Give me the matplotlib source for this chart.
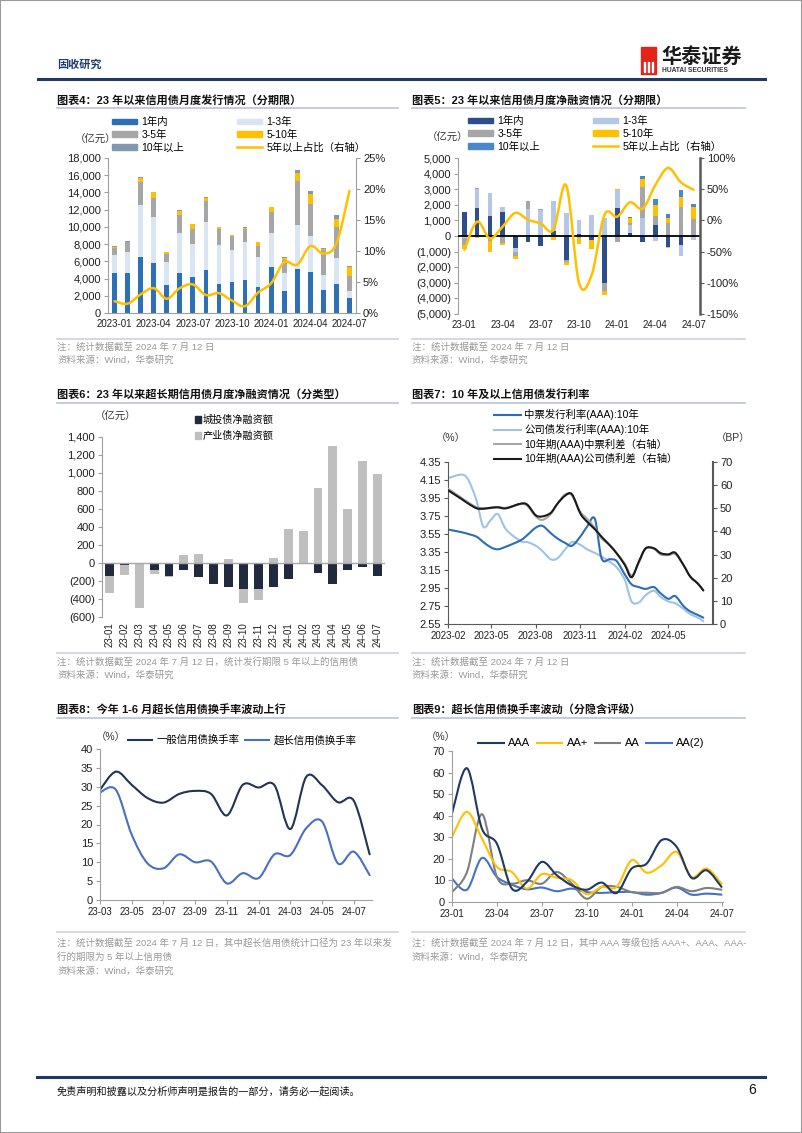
import numpy as np
import pandas as pd
import matplotlib
matplotlib.use('Agg')
import matplotlib.pyplot as plt
import matplotlib.dates as mdates
from matplotlib.path import Path
from matplotlib.patches import PathPatch, Rectangle, Patch
from matplotlib.lines import Line2D
from matplotlib.ticker import FuncFormatter

plt.rcParams['font.family'] = ['Liberation Sans', 'Noto Sans CJK SC', 'DejaVu Sans']
plt.rcParams['axes.unicode_minus'] = False

# ---------------- data ----------------
# chart 4: monthly issuance by tenor (100m yuan)
months4 = ['2023-01', '2023-02', '2023-03', '2023-04', '2023-05', '2023-06', '2023-07', '2023-08',
           '2023-09', '2023-10', '2023-11', '2023-12', '2024-01', '2024-02', '2024-03', '2024-04',
           '2024-05', '2024-06', '2024-07']
iss_1y = [4700, 4600, 6500, 5750, 3250, 4700, 4150, 4950, 3400, 3650, 3800, 3000, 5350, 2600, 5150, 4750, 2650, 3350, 1700]
iss_1_3 = [2000, 2500, 6000, 5350, 2650, 4600, 3850, 5650, 4550, 3650, 4400, 3500, 3950, 2000, 5050, 4150, 1800, 3050, 900]
iss_3_5 = [900, 1100, 2700, 2300, 1000, 2100, 1800, 2400, 1750, 1600, 1600, 1300, 2400, 1500, 5100, 3800, 2850, 3600, 1700]
iss_5_10 = [100, 100, 500, 600, 200, 500, 500, 400, 300, 150, 100, 400, 600, 300, 1000, 1100, 100, 900, 1000]
iss_10p = [30, 30, 100, 50, 30, 50, 50, 50, 30, 30, 30, 50, 50, 100, 300, 400, 100, 500, 200]
iss_share = [1.9, 1.5, 3.0, 4.0, 2.3, 4.0, 4.6, 2.9, 3.2, 2.0, 1.1, 3.3, 4.8, 8.2, 7.8, 10.8, 9.6, 11.2, 19.7]

# chart 5: monthly net financing by tenor
months5 = ['23-01', '23-02', '23-03', '23-04', '23-05', '23-06', '23-07', '23-08', '23-09', '23-10',
           '23-11', '23-12', '24-01', '24-02', '24-03', '24-04', '24-05', '24-06', '24-07']
nf_1y = [1560, 1770, 1300, 1560, -750, -400, -650, 320, -1540, 130, -260, -3000, 1820, 210, -360, 700, -700, -580, -50]
nf_1_3 = [-100, 1240, 1440, 280, -300, 1710, 1650, 1920, 1450, 900, 1330, 1150, 1130, 500, 1130, -300, -50, -680, -200]
nf_3_5 = [-500, 50, -300, -450, -250, 550, 100, 0, -100, -100, 0, -550, -400, 150, 2030, 600, 850, 1880, 1090]
nf_5_10 = [-250, -150, -700, -150, -150, 0, 0, -250, -250, -400, -600, -250, 50, 300, 470, 700, 330, 640, 750]
nf_10p = [0, 0, 0, 0, 0, 0, 0, 0, 0, 0, 0, 0, 0, 50, 240, 400, 210, 430, 210]
nf_share = [-47, -2, -29, -10, 12, 1, -5, -15, 56, -100, -87, 9, 6, 29, 19, 57, 84, 61, 49]

# chart 6: ultra-long net financing by type
ct_net = [-145, -25, -5, -75, -145, -75, -160, -230, -265, -290, -285, -270, -175, -5, -115, -235, -75, -45, -140]
cy_net = [-190, -108, -495, -50, -10, 85, 100, 0, 45, -150, -130, 55, 375, 355, 830, 1300, 600, 1130, 985]

# chart 7: 10y+ issuance rates and spreads
dates7 = ['2023-02-01', '2023-03-01', '2023-03-15', '2023-04-01', '2023-04-15', '2023-05-01', '2023-05-15',
          '2023-06-01', '2023-07-01', '2023-07-15', '2023-08-01', '2023-08-15', '2023-09-01', '2023-09-15',
          '2023-10-01', '2023-10-15', '2023-11-01', '2023-11-15', '2023-12-01', '2023-12-15', '2024-01-01',
          '2024-01-15', '2024-02-01', '2024-02-15', '2024-03-01', '2024-03-15', '2024-04-01', '2024-04-15',
          '2024-05-01', '2024-05-15', '2024-06-01', '2024-06-15', '2024-07-01', '2024-07-12']
mtn_rate = [3.60, 3.57, 3.55, 3.52, 3.46, 3.40, 3.38, 3.41, 3.48, 3.54, 3.62, 3.64, 3.56, 3.50, 3.45, 3.42, 3.52,
            3.63, 3.72, 3.28, 3.27, 3.25, 3.10, 2.99, 2.96, 2.94, 2.96, 2.89, 2.83, 2.86, 2.75, 2.69, 2.65, 2.62]
corp_rate = [4.17, 4.21, 4.15, 3.92, 3.63, 3.71, 3.77, 3.60, 3.47, 3.46, 3.42, 3.36, 3.27, 3.28, 3.38, 3.46, 3.43,
             3.38, 3.34, 3.30, 3.24, 3.18, 3.04, 2.80, 2.79, 2.87, 2.92, 2.85, 2.80, 2.78, 2.72, 2.66, 2.62, 2.58]
mtn_spread = [58.5, 54.5, 52.5, 50.5, 50.0, 50.3, 50.6, 50.2, 51.8, 51.0, 46.5, 45.0, 47.5, 52.0, 56.0, 55.5,
              48.5, 45.5, 41.5, 37.0, 34.0, 30.5, 26.0, 21.0, 26.5, 32.5, 32.5, 30.0, 29.8, 30.2, 25.5, 20.5, 17.4, 14.5]
corp_spread = [57.8, 54.0, 52.0, 50.0, 49.8, 50.2, 50.4, 50.0, 52.0, 51.5, 47.0, 46.5, 48.0, 52.0, 55.5, 56.0,
               47.8, 44.2, 41.0, 37.7, 34.0, 30.6, 25.5, 20.2, 27.0, 32.7, 32.7, 30.6, 30.1, 30.8, 25.5, 20.5, 17.4, 14.5]

# chart 8: turnover rate, general vs ultra-long
months8 = ['23-03', '23-04', '23-05', '23-06', '23-07', '23-08', '23-09', '23-10', '23-11', '23-12',
           '24-01', '24-02', '24-03', '24-04', '24-05', '24-06', '24-07', '24-08']
turn_general = [29.2, 34.0, 30.5, 27.0, 25.8, 28.1, 28.9, 28.1, 22.4, 30.5, 29.8, 30.4, 18.8, 32.6, 30.4, 25.9, 26.3, 12.1]
turn_ultra = [28.5, 29.2, 17.3, 9.7, 8.4, 12.1, 10.0, 10.2, 4.4, 7.1, 5.8, 12.1, 11.9, 19.0, 20.8, 9.7, 12.8, 6.6]

# chart 9: ultra-long turnover by implied rating
months9 = months5
t_aaa = [41, 62, 34, 27, 6.2, 9.3, 18.6, 12.4, 7.7, 5.7, 9.0, 4.2, 15.5, 17.8, 28.7, 25.6, 11.2, 14.7, 7.0]
t_aap = [30.2, 41.8, 29.4, 16.3, 13.9, 6.2, 12.9, 11.2, 10.1, 3.6, 7.0, 7.0, 19.4, 13.6, 17.0, 23.2, 11.6, 15.5, 8.5]
t_aa = [4.6, 13.9, 40.7, 11.6, 8.5, 10.1, 8.5, 13.9, 8.5, 1.5, 7.0, 7.0, 4.6, 4.3, 4.3, 7.0, 5.0, 6.5, 5.7]
t_aa2 = [10.8, 5.7, 20.4, 11.6, 8.0, 5.9, 6.7, 5.0, 6.2, 4.6, 4.2, 4.6, 4.6, 3.4, 4.2, 6.7, 3.4, 3.9, 3.4]

# ---------------- helpers ----------------
W, H = 802, 1133
fig = plt.figure(figsize=(W / 100, H / 100), dpi=100)
GREY_TXT = '#999999'
XFS = 7.0   # x tick label size


def rect(l, t, r, b):
    return [l / W, 1 - b / H, (r - l) / W, (b - t) / H]


def ftext(x, y, s, **kw):
    kw.setdefault('va', 'center')
    fig.text(x / W, 1 - y / H, s, **kw)


def hline(x0, x1, y, color, lw):
    fig.add_artist(Line2D([x0 / W, x1 / W], [1 - y / H, 1 - y / H], color=color, lw=lw))


def smooth_line(ax, x, y, color, lw):
    # Excel-style smoothed line: cubic bezier through the points
    x = np.asarray(x, float)
    y = np.asarray(y, float)
    n = len(x)
    verts = [(x[0], y[0])]
    codes = [Path.MOVETO]
    for i in range(n - 1):
        i0 = max(i - 1, 0)
        i3 = min(i + 2, n - 1)
        c1 = (x[i] + (x[i + 1] - x[i0]) / 6, y[i] + (y[i + 1] - y[i0]) / 6)
        c2 = (x[i + 1] - (x[i3] - x[i]) / 6, y[i + 1] - (y[i3] - y[i]) / 6)
        verts += [c1, c2, (x[i + 1], y[i + 1])]
        codes += [Path.CURVE4] * 3
    ax.add_patch(PathPatch(Path(verts, codes), fill=False, edgecolor=color, lw=lw,
                           capstyle='round', joinstyle='round'))


def stack_bars(ax, x, series, colors, width):
    pos = np.zeros(len(x))
    neg = np.zeros(len(x))
    for vals, c in zip(series, colors):
        v = np.asarray(vals, float)
        bottom = np.where(v >= 0, pos, neg)
        ax.bar(x, v, width, bottom=bottom, color=c, linewidth=0)
        pos += np.clip(v, 0, None)
        neg += np.clip(v, None, 0)


def paren_fmt(v, _):
    return f'({abs(v):,.0f})' if v < 0 else f'{v:,.0f}'


def pct_fmt(v, _):
    return f'{v:.0f}%'


def base_style(ax, color='#A0A0A0'):
    ax.spines['top'].set_visible(False)
    ax.spines['right'].set_visible(False)
    for s in ['left', 'bottom']:
        ax.spines[s].set_color(color)
        ax.spines[s].set_linewidth(0.8)
    ax.tick_params(labelsize=8, length=3, color=color, pad=2, labelcolor='#202020')
    ax.tick_params(axis='x', labelsize=XFS)
    ax.patch.set_alpha(0)


def twin_style(ax, color='#A0A0A0', lw=0.8):
    for s in ['top', 'left', 'bottom']:
        ax.spines[s].set_visible(False)
    ax.spines['right'].set_color(color)
    ax.spines['right'].set_linewidth(lw)
    ax.tick_params(labelsize=8, length=3, color=color, pad=2, labelcolor='#202020')


def legend_at(handles, labels, x, y, **kw):
    opts = dict(loc='upper left', bbox_to_anchor=(x / W, 1 - y / H), bbox_transform=fig.transFigure,
                frameon=False, fontsize=7.5, borderpad=0, borderaxespad=0,
                handlelength=2.4, handleheight=0.45, handletextpad=0.4, labelspacing=0.25)
    opts.update(kw)
    fig.legend(handles, labels, **opts)


def title(x, y, s):
    ftext(x, y, s, fontsize=8.0, fontweight='bold', color='#111111')


def note(x, y, s):
    ftext(x, y, s, fontsize=6.8, color=GREY_TXT)


# ---------------- page decoration ----------------
fig.add_artist(Rectangle((0, 0), 1, 1, transform=fig.transFigure, fill=False, ec='#9A9A9A', lw=1.5))
ftext(57, 65, '固收研究', fontsize=8, fontweight='bold', color='#1F3B73')
hline(38, 765, 79, '#1F3864', 2.2)
fig.add_artist(Rectangle((641 / W, 1 - 74 / H), 15 / W, 27 / H, transform=fig.transFigure, color='#E1251B'))
for xs in (644, 648, 652):
    fig.add_artist(Rectangle((xs / W, 1 - 72 / H), 1 / W, 10 / H, transform=fig.transFigure, color='white'))
ftext(661, 57, '华泰证券', fontsize=14.5, fontweight='bold', color='#1A1A1A')
ftext(662, 71, 'HUATAI SECURITIES', fontsize=4.8, fontweight='bold', color='#333333')
hline(37, 765, 1077, '#1F3864', 2.2)
ftext(57, 1091, '免责声明和披露以及分析师声明是报告的一部分，请务必一起阅读。', fontsize=7.3,
      style='italic', color='#111111')
ftext(748, 1090, '6', fontsize=10, color='#111111')

# ---------------- chart 4 ----------------
title(57, 100, '图表4：23 年以来信用债月度发行情况（分期限）')
hline(57, 398, 108, '#B8C4D6', 1.2)
c4 = ['#2E70B8', '#D9E5F3', '#A6A6A6', '#FFC000', '#8497B0']
ax4 = fig.add_axes(rect(108, 158, 356, 313))
x4 = np.arange(len(months4))
stack_bars(ax4, x4, [iss_1y, iss_1_3, iss_3_5, iss_5_10, iss_10p], c4, 0.36)
ax4.set_xlim(-0.5, len(x4) - 0.5)
ax4.set_ylim(0, 18000)
ax4.set_yticks(range(0, 18001, 2000))
ax4.yaxis.set_major_formatter(FuncFormatter(lambda v, _: f'{v:,.0f}'))
ax4.set_xticks(x4[::3])
ax4.set_xticklabels(months4[::3])
base_style(ax4)
ax4.tick_params(axis='x', length=0, pad=4)
ax4r = ax4.twinx()
smooth_line(ax4r, x4, iss_share, '#FFC000', 1.8)
ax4r.set_ylim(0, 25)
ax4r.set_yticks(range(0, 26, 5))
ax4r.yaxis.set_major_formatter(FuncFormatter(pct_fmt))
twin_style(ax4r)
ftext(75, 140, '（亿元）', fontsize=7.5, color='#333333')
legend_at([Patch(color=c4[0]), Patch(color=c4[2]), Patch(color=c4[4])],
          ['1年内', '3-5年', '10年以上'], 112, 117)
legend_at([Patch(color=c4[1]), Patch(color=c4[3]), Line2D([], [], color='#FFC000', lw=1.8)],
          ['1-3年', '5-10年', '5年以上占比（右轴）'], 237, 117)
hline(57, 398, 339, '#C9D3E0', 1.2)
note(57, 347, '注：统计数据截至 2024 年 7 月 12 日')
note(57, 360, '资料来源：Wind，华泰研究')

# ---------------- chart 5 ----------------
title(412, 100, '图表5：23 年以来信用债月度净融资情况（分期限）')
hline(412, 745, 108, '#B8C4D6', 1.2)
c5 = ['#2C4E8A', '#B4C7E7', '#A6A6A6', '#FFC000', '#4A88CC']
ax5 = fig.add_axes(rect(458, 158, 700, 314))
x5 = np.arange(len(months5))
stack_bars(ax5, x5, [nf_1y, nf_1_3, nf_3_5, nf_5_10, nf_10p], c5, 0.36)
ax5.axhline(0, color='black', lw=1.3, zorder=3)
ax5.set_xlim(-0.5, len(x5) - 0.5)
ax5.set_ylim(-5000, 5000)
ax5.set_yticks(range(-5000, 5001, 1000))
ax5.yaxis.set_major_formatter(FuncFormatter(paren_fmt))
ax5.set_xticks(x5[::3])
ax5.set_xticklabels(months5[::3])
base_style(ax5)
ax5.spines['bottom'].set_visible(False)
ax5.tick_params(axis='x', length=0, pad=4)
ax5r = ax5.twinx()
smooth_line(ax5r, x5, nf_share, '#FFC000', 1.8)
ax5r.set_ylim(-150, 100)
ax5r.set_yticks(range(-150, 101, 50))
ax5r.yaxis.set_major_formatter(FuncFormatter(pct_fmt))
twin_style(ax5r, '#595959', 1.8)
ftext(427, 138, '（亿元）', fontsize=7.5, color='#333333')
legend_at([Patch(color=c5[0]), Patch(color=c5[2]), Patch(color=c5[4])],
          ['1年内', '3-5年', '10年以上'], 468, 116)
legend_at([Patch(color=c5[1]), Patch(color=c5[3]), Line2D([], [], color='#FFC000', lw=1.8)],
          ['1-3年', '5-10年', '5年以上占比（右轴）'], 593, 116)
hline(412, 745, 339, '#C9D3E0', 1.2)
note(412, 347, '注：统计数据截至 2024 年 7 月 12 日')
note(412, 360, '资料来源：Wind，华泰研究')

# ---------------- chart 6 ----------------
title(57, 394, '图表6：23 年以来超长期信用债月度净融资情况（分类型）')
hline(57, 398, 403, '#B8C4D6', 1.2)
c6 = ['#222A40', '#BFBFBF']
ax6 = fig.add_axes(rect(102, 437, 385, 617))
x6 = np.arange(len(months5))
stack_bars(ax6, x6, [ct_net, cy_net], c6, 0.6)
ax6.axhline(0, color='#A6A6A6', lw=1.0, zorder=3)
ax6.set_xlim(-0.5, len(x6) - 0.5)
ax6.set_ylim(-600, 1400)
ax6.set_yticks(range(-600, 1401, 200))
ax6.yaxis.set_major_formatter(FuncFormatter(paren_fmt))
ax6.set_xticks(x6)
ax6.set_xticklabels(months5, rotation=90)
base_style(ax6)
ax6.spines['bottom'].set_visible(False)
ax6.tick_params(axis='x', length=0, pad=4)
ftext(95, 417, '（亿元）', fontsize=7.5, color='#333333')
legend_at([Patch(color=c6[0]), Patch(color=c6[1])], ['城投债净融资额', '产业债净融资额'], 195, 415,
          handlelength=0.6, handleheight=0.6, handletextpad=0.2, labelspacing=0.55, fontsize=7.3)
hline(57, 398, 653, '#C9D3E0', 1.2)
note(57, 662, '注：统计数据截至 2024 年 7 月 12 日，统计发行期限 5 年以上的信用债')
note(57, 675, '资料来源：Wind，华泰研究')

# ---------------- chart 7 ----------------
title(412, 394, '图表7：10 年及以上信用债发行利率')
hline(412, 745, 403, '#B8C4D6', 1.2)
x7 = mdates.date2num(pd.to_datetime(dates7))
ax7 = fig.add_axes(rect(448, 462, 713, 624))
smooth_line(ax7, x7, corp_rate, '#9DC3E6', 1.5)
smooth_line(ax7, x7, mtn_rate, '#2E6DB4', 1.5)
ax7.set_xlim(mdates.date2num(pd.Timestamp('2023-02-01')), mdates.date2num(pd.Timestamp('2024-08-01')))
ax7.set_ylim(2.55, 4.35)
ax7.set_yticks(np.arange(2.55, 4.36, 0.2))
ax7.yaxis.set_major_formatter(FuncFormatter(lambda v, _: f'{v:.2f}'))
tick_dates = pd.to_datetime(['2023-02-01', '2023-05-01', '2023-08-01', '2023-11-01', '2024-02-01', '2024-05-01'])
ax7.set_xticks(mdates.date2num(tick_dates))
ax7.set_xticklabels([d.strftime('%Y-%m') for d in tick_dates])
base_style(ax7, '#595959')
ax7r = ax7.twinx()
smooth_line(ax7r, x7, mtn_spread, '#A6A6A6', 1.5)
smooth_line(ax7r, x7, corp_spread, '#1A1A1A', 1.5)
ax7r.set_ylim(0, 70)
ax7r.set_yticks(range(0, 71, 10))
twin_style(ax7r, '#595959', 1.5)
ftext(436, 438, '（%）', fontsize=7.5, color='#333333')
ftext(716, 438, '（BP）', fontsize=7.5, color='#333333')
legend_at([Line2D([], [], color='#2E6DB4', lw=1.5), Line2D([], [], color='#9DC3E6', lw=1.5),
           Line2D([], [], color='#A6A6A6', lw=1.5), Line2D([], [], color='#1A1A1A', lw=1.5)],
          ['中票发行利率(AAA):10年', '公司债发行利率(AAA):10年', '10年期(AAA)中票利差（右轴）',
           '10年期(AAA)公司债利差（右轴）'], 494, 409, handlelength=2.6, handletextpad=0.3, labelspacing=0.35)
hline(412, 745, 653, '#C9D3E0', 1.2)
note(412, 662, '注：统计数据截至 2024 年 7 月 12 日')
note(412, 675, '资料来源：Wind，华泰研究')

# ---------------- chart 8 ----------------
title(57, 710, '图表8：今年 1-6 月超长信用债换手率波动上行')
hline(57, 398, 718, '#B8C4D6', 1.2)
ax8 = fig.add_axes(rect(100, 749, 372, 900))
x8 = np.arange(len(months8))
smooth_line(ax8, x8, turn_general, '#1F3554', 1.5)
smooth_line(ax8, x8, turn_ultra, '#4A6FC0', 1.5)
ax8.set_xlim(0, 17.15)
ax8.set_ylim(0, 40)
ax8.set_yticks(range(0, 41, 5))
ax8.set_xticks(x8[:17:2])
ax8.set_xticklabels(months8[:17:2])
base_style(ax8)
ftext(96, 737, '（%）', fontsize=7.5, color='#333333')
legend_at([Line2D([], [], color='#1F3554', lw=1.5), Line2D([], [], color='#4A6FC0', lw=1.5)],
          ['一般信用债换手率', '超长信用债换手率'], 128, 735, ncol=2, columnspacing=0.6,
          handlelength=2.3, handletextpad=0.4)
hline(57, 398, 932, '#C9D3E0', 1.2)
note(57, 943, '注：统计数据截至 2024 年 7 月 12 日，其中超长信用债统计口径为 23 年以来发')
note(57, 957, '行的期限为 5 年以上信用债')
note(57, 971, '资料来源：Wind，华泰研究')

# ---------------- chart 9 ----------------
title(412, 710, '图表9：超长信用债换手率波动（分隐含评级）')
hline(412, 745, 718, '#B8C4D6', 1.2)
ax9 = fig.add_axes(rect(452, 751, 723, 902))
x9 = np.arange(len(months9))
c9 = ['#1F3864', '#FFC000', '#7F7F7F', '#4472C4']
for ser, c in zip([t_aa2, t_aa, t_aap, t_aaa], c9[::-1]):
    smooth_line(ax9, x9, ser, c, 1.5)
ax9.set_xlim(0, 18.1)
ax9.set_ylim(0, 70)
ax9.set_yticks(range(0, 71, 10))
ax9.set_xticks(x9[::3])
ax9.set_xticklabels(months9[::3])
base_style(ax9)
ftext(426, 737, '（%）', fontsize=7.5, color='#333333')
legend_at([Line2D([], [], color=c, lw=1.5) for c in c9], ['AAA', 'AA+', 'AA', 'AA(2)'],
          478, 738, ncol=4, columnspacing=0.6, handlelength=2.3, handletextpad=0.4, fontsize=8)
hline(412, 745, 932, '#C9D3E0', 1.2)
note(412, 943, '注：统计数据截至 2024 年 7 月 12 日，其中 AAA 等级包括 AAA+、AAA、AAA-')
note(412, 957, '资料来源：Wind，华泰研究')

fig.savefig('out.png', dpi=100)
